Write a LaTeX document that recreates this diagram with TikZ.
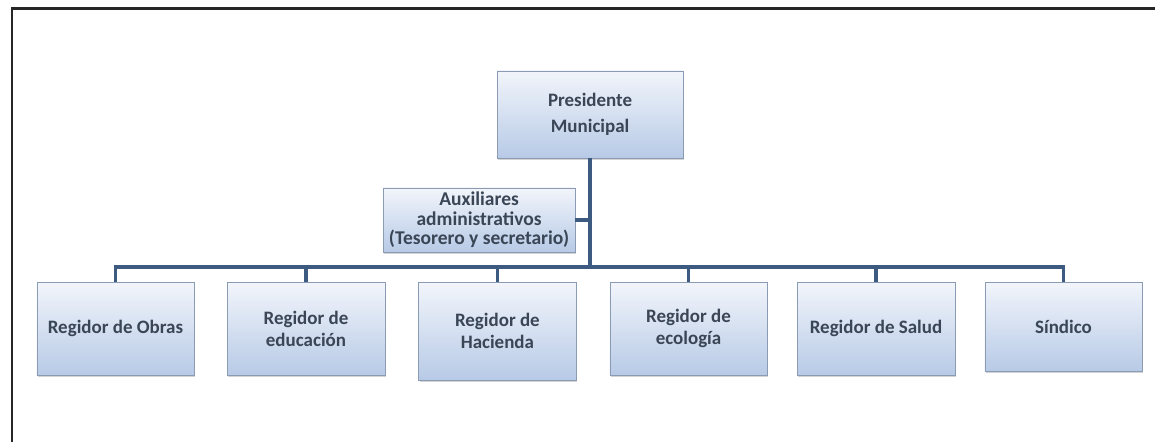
\documentclass[tikz,border=0pt]{standalone}
\usepackage{fontspec}
\setmainfont{Carlito}
\usepackage{tikz}
\usetikzlibrary{%
  calc,
  positioning,
  shadows,
}
\definecolor{linkblue}{HTML}{3D5B80}
\definecolor{boxline}{HTML}{8A9BB3}
\definecolor{boxtop}{HTML}{F2F5FB}
\definecolor{boxbottom}{HTML}{B7CAE6}
\definecolor{txt}{HTML}{3A4656}

\tikzset{
  cargo/.style={draw=boxline, thin, top color=boxtop, bottom color=boxbottom,
    drop shadow={shadow xshift=0.04, shadow yshift=-0.06, opacity=0.35},
    text=txt, align=center, font=\fontsize{18}{21}\selectfont\bfseries,
    minimum width=5.25cm, minimum height=3.1cm, anchor=north},
  link/.style={linkblue, line width=3.5pt},
}

\begin{document}
\begin{tikzpicture}
        \useasboundingbox (0,0) rectangle (38.5,14.73);
        % frame, top and left only
        \draw[line width=2.5pt, black!85] (0.4,0) -- (0.4,14.44) -- (38.5,14.44);

        \node[cargo, anchor=center, minimum width=6.2cm, minimum height=2.9cm,
          font=\fontsize{18}{24}\selectfont\bfseries]
          (pres) at (19.67,10.92) {Presidente\\Municipal};
        \node[cargo, anchor=center, minimum width=6.4cm, minimum height=2.13cm,
          inner sep=1pt, font=\fontsize{18.5}{18.5}\selectfont\bfseries]
          (aux) at (15.97,7.4) {Auxiliares\\administrativos\\(Tesorero y secretario)};

        \node[cargo] (obras) at (3.85,5.33) {Regidor de Obras};
        \node[cargo] (educ) at (10.2,5.33) {Regidor de\\educación};
        \node[cargo, minimum height=3.27cm] (hacienda) at (16.58,5.33) {Regidor de\\Hacienda};
        \node[cargo] (ecologia) at (22.95,5.33) {Regidor de\\ecología};
        \node[cargo] (salud) at (29.2,5.33) {Regidor de Salud};
        \node[cargo, minimum height=2.97cm] (sindico) at (35.45,5.33) {Síndico};

        \coordinate (bus) at (0,5.83);
        \draw[link] (pres.south) -- (pres.south |- bus);
        \draw[link] (aux.east) -- (aux.east -| pres.south);
        \draw[link] (obras.north) -- (obras.north |- bus)
          -- (sindico.north |- bus) -- (sindico.north);
        \foreach \n in {educ, hacienda, ecologia, salud}
          \draw[link] (\n.north) -- (\n.north |- bus);
      \end{tikzpicture}
\end{document}
